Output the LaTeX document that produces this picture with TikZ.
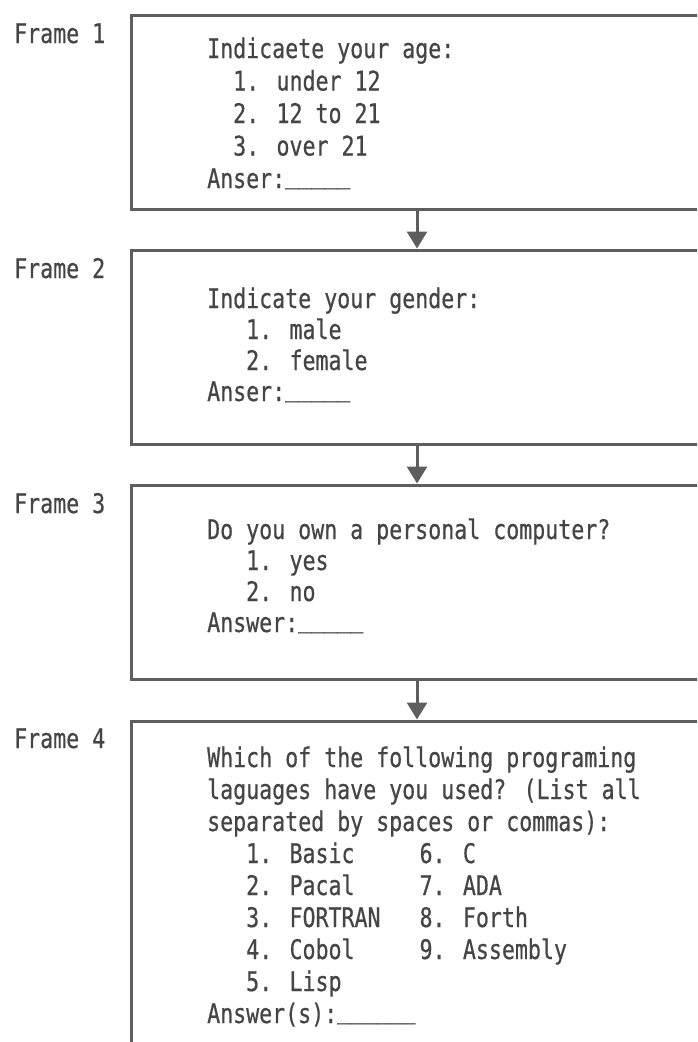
\documentclass[tikz,border=0pt]{standalone}
\usepackage{fontspec}
\usetikzlibrary{arrows.meta}
\newfontfamily\gothic[FakeStretch=0.80,FakeBold=0.6]{DejaVu Sans Mono}
\definecolor{ink}{gray}{0.27}
\definecolor{rulecol}{gray}{0.37}
\newlength\cw
% a row of blanks to be filled in, set on the baseline
\newcommand\blankfield[1]{\raisebox{5pt}{#1}}
\begin{document}
% width of one character cell of the screen font
\settowidth{\cw}{\gothic\fontsize{27}{32}\selectfont 0}
\begin{tikzpicture}[x=1pt,y=-1pt,
  framebox/.style={draw=rulecol, line width=3pt, rectangle, anchor=north west,
    minimum width=640pt, inner sep=0pt},
  framelabel/.style={anchor=base west, inner sep=0pt, text=ink,
    font=\gothic\fontsize{27}{32}\selectfont},
  question/.style={anchor=base west, inner sep=0pt, text=ink},
  link/.style={draw=rulecol, line width=3pt, -{Triangle[width=20pt,length=17pt]}}]
\useasboundingbox (0,0) rectangle (697,1042);
\clip (0,0) rectangle (697,1042);

% frame labels
\node[framelabel] (t1) at (14,43)  {Frame 1};
\node[framelabel] (t2) at (14,278) {Frame 2};
\node[framelabel] (t3) at (14,513) {Frame 3};
\node[framelabel] (t4) at (14,748) {Frame 4};

% the four screens
\node[framebox, minimum height=194pt] (f1) at (130,13.5)  {};
\node[framebox, minimum height=194pt] (f2) at (130,248.5) {};
\node[framebox, minimum height=194pt] (f3) at (130,483.5) {};
\node[framebox, minimum height=400pt] (f4) at (130,719.5) {};

% screen contents
\node[question, font=\gothic\fontsize{27}{32.5}\selectfont] (q1) at (207,58) {%
\begin{tabular}[t]{@{}l@{}}
Indicaete your age:\\
\hspace*{2\cw}1. under 12\\
\hspace*{2\cw}2. 12 to 21\\
\hspace*{2\cw}3. over 21\\
Anser:\blankfield{\_\_\_\_\_}
\end{tabular}};

\node[question, font=\gothic\fontsize{27}{31}\selectfont] (q2) at (207,308) {%
\begin{tabular}[t]{@{}l@{}}
Indicate your gender:\\
\hspace*{3\cw}1. male\\
\hspace*{3\cw}2. female\\
Anser:\blankfield{\_\_\_\_\_}
\end{tabular}};

\node[question, font=\gothic\fontsize{27}{31}\selectfont] (q3) at (207,539) {%
\begin{tabular}[t]{@{}l@{}}
Do you own a personal computer?\\
\hspace*{3\cw}1. yes\\
\hspace*{3\cw}2. no\\
Answer:\blankfield{\_\_\_\_\_}
\end{tabular}};

\node[question, font=\gothic\fontsize{27}{32}\selectfont] (q4) at (207,767) {%
\begin{tabular}[t]{@{}l@{}}
Which of the following programing\\
laguages have you used? (List all\\
separated by spaces or commas):\\
\hspace*{3\cw}1. Basic~~~~~6. C\\
\hspace*{3\cw}2. Pacal~~~~~7. ADA\\
\hspace*{3\cw}3. FORTRAN~~~8. Forth\\
\hspace*{3\cw}4. Cobol~~~~~9. Assembly\\
\hspace*{3\cw}5. Lisp\\
Answer(s):\blankfield{\_\_\_\_\_\_}
\end{tabular}};

% flow between screens
\draw[link] ([xshift=287pt]f1.south west) -- ([xshift=287pt]f2.north west);
\draw[link] ([xshift=287pt]f2.south west) -- ([xshift=287pt]f3.north west);
\draw[link] ([xshift=287pt]f3.south west) -- ([xshift=287pt]f4.north west);
\end{tikzpicture}
\end{document}
